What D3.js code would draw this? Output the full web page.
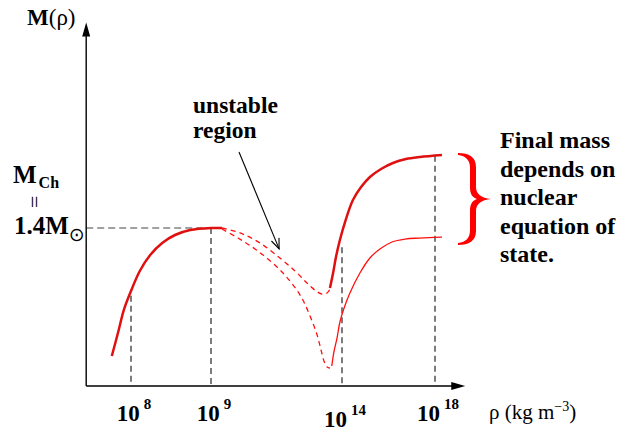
<!DOCTYPE html>
<html><head><meta charset="utf-8">
<script src="https://cdn.jsdelivr.net/npm/d3@7"></script>
<style>body{margin:0;background:#fff} svg{display:block} text{font-family:"Liberation Serif","Times New Roman",Times,serif}</style>
</head><body><svg id="c" width="617" height="432"></svg>
<script>
// ---- data (log10 rho, mass in solar masses) ----
const tickExps = [8, 9, 14, 18];
const tickLabels = ["8", "9", "14", "18"];
const dropTops = [0.80, 1.40, 1.23, 2.04];
const mChandra = 1.4;

const wdLogRho = [7.76, 7.84, 7.91, 8.0, 8.11, 8.24, 8.39, 8.55, 8.74, 9.0, 9.42];
const wdMass   = [0.266, 0.478, 0.673, 0.842, 1.019, 1.161, 1.267, 1.338, 1.382, 1.4, 1.4];

const unstAlogRho = [9.42, 10.11, 10.87, 11.63, 12.21, 12.66, 13.01, 13.24, 13.43, 13.54];
const unstAmass   = [1.4, 1.356, 1.267, 1.134, 1.019, 0.913, 0.842, 0.815, 0.824, 0.859];

const stiffLogRho = [13.54, 13.66, 13.77, 13.92, 14.13, 14.47, 14.82, 15.20, 15.68, 16.19, 16.75, 17.35, 18.30];
const stiffMass   = [0.868, 1.001, 1.143, 1.294, 1.453, 1.648, 1.763, 1.852, 1.923, 1.976, 2.011, 2.029, 2.047];

const unstBlogRho = [9.42, 10.03, 10.79, 11.71, 12.40, 12.78, 13.05, 13.20, 13.31, 13.43, 13.54];
const unstBmass   = [1.391, 1.311, 1.196, 1.010, 0.806, 0.620, 0.452, 0.319, 0.222, 0.168, 0.159];

const softLogRho = [13.61, 13.69, 13.81, 13.92, 14.09, 14.34, 14.77, 15.20, 15.63, 16.15, 16.71, 17.35, 18.30];
const softMass   = [0.177, 0.301, 0.425, 0.567, 0.691, 0.824, 1.001, 1.134, 1.214, 1.276, 1.302, 1.311, 1.320];

const axisLogRhoStart = 7.44, axisLogRhoEnd = 19.3, axisMassTop = 3.22;
const rightText = ["Final mass", "depends on", "nuclear", "equation of", "state."];
const unstableText = ["unstable", "region"];

// ---- scales ----
const x = d3.scaleLinear().domain(tickExps).range([131, 211, 342, 435]);
const y = d3.scaleLinear().domain([0, mChandra]).range([386, 228]);

const svg = d3.select("#c");
const zip = (a, b) => a.map((v, i) => [v, b[i]]);
const line = d3.line().x(d => x(d[0])).y(d => y(d[1])).curve(d3.curveCatmullRom.alpha(0.5));

// ---- drop lines ----
svg.append("g").selectAll("line").data(tickExps).join("line")
  .attr("x1", d => x(d)).attr("x2", d => x(d))
  .attr("y1", (d, i) => y(dropTops[i])).attr("y2", y(0))
  .attr("stroke", "#111").attr("stroke-width", 1.1).attr("stroke-dasharray", "6,4");
svg.append("line")
  .attr("x1", x(axisLogRhoStart)).attr("x2", x(9))
  .attr("y1", y(mChandra)).attr("y2", y(mChandra))
  .attr("stroke", "#444").attr("stroke-width", 1.1).attr("stroke-dasharray", "7,4");

// ---- curves ----
svg.append("path").datum(zip(unstAlogRho, unstAmass)).attr("d", line)
  .attr("fill", "none").attr("stroke", "#ff1010").attr("stroke-width", 1.3).attr("stroke-dasharray", "5,4");
svg.append("path").datum(zip(unstBlogRho, unstBmass)).attr("d", line)
  .attr("fill", "none").attr("stroke", "#ff1010").attr("stroke-width", 1.3).attr("stroke-dasharray", "5,4");
svg.append("path").datum(zip(softLogRho, softMass)).attr("d", line)
  .attr("fill", "none").attr("stroke", "#ff1010").attr("stroke-width", 1.3);
svg.append("path").datum(zip(wdLogRho, wdMass)).attr("d", line)
  .attr("fill", "none").attr("stroke", "#e01010").attr("stroke-width", 2.5);
svg.append("path").datum(zip(stiffLogRho, stiffMass)).attr("d", line)
  .attr("fill", "none").attr("stroke", "#e01010").attr("stroke-width", 2.5);

// ---- axes ----
const x0 = x(axisLogRhoStart), y0 = y(0), xe = x(axisLogRhoEnd), ye = y(axisMassTop);
svg.append("line").attr("x1", x0).attr("y1", y0).attr("x2", x0).attr("y2", ye + 10)
  .attr("stroke", "#000").attr("stroke-width", 1.4);
svg.append("line").attr("x1", x0).attr("y1", y0).attr("x2", xe - 10).attr("y2", y0)
  .attr("stroke", "#000").attr("stroke-width", 1.4);
svg.append("path").attr("d", `M${x0},${ye} L${x0 - 4},${ye + 14} L${x0 + 4},${ye + 14} Z`).attr("fill", "#000");
svg.append("path").attr("d", `M${xe},${y0} L${xe - 14},${y0 - 4} L${xe - 14},${y0 + 4} Z`).attr("fill", "#000");

// ---- tick labels ----
const tl = svg.append("g").attr("font-weight", "bold").attr("fill", "#000");
tickExps.forEach((e, i) => {
  const t = tl.append("text").attr("x", x(e) + 3).attr("y", e === 14 ? 427 : 421)
    .attr("text-anchor", "middle").attr("font-size", 23);
  t.append("tspan").text("10");
  t.append("tspan").attr("dx", 4).attr("dy", -12).attr("font-size", 15).text(tickLabels[i]);
});

// x axis title
const xt = svg.append("text").attr("x", 489).attr("y", 419)
  .attr("font-size", 21).attr("fill", "#000");
xt.append("tspan").text("ρ (kg m");
xt.append("tspan").attr("dy", -8).attr("font-size", 14).text("−3");
xt.append("tspan").attr("dy", 8).text(")");

// y axis title
const yt = svg.append("text").attr("x", 27).attr("y", 25)
  .attr("font-size", 23).attr("fill", "#000");
yt.append("tspan").attr("font-weight", "bold").text("M");
yt.append("tspan").text("(ρ)");

// M_Ch = 1.4 Msun
const mch = svg.append("text").attr("x", 13).attr("y", 183)
  .attr("font-weight", "bold").attr("font-size", 25).attr("fill", "#000");
mch.append("tspan").text("M");
mch.append("tspan").attr("dx", 2).attr("dy", 5).attr("font-size", 16).text("Ch");
svg.append("text").attr("transform", "translate(34,202) rotate(90)")
  .attr("text-anchor", "middle").attr("dy", "0.3em")
  .attr("font-size", 22).attr("fill", "#000").text("=");
const ms = svg.append("text").attr("x", 14).attr("y", 234)
  .attr("font-weight", "bold").attr("font-size", 25).attr("fill", "#000");
ms.append("tspan").text("1.4M");
ms.append("tspan").attr("dy", 7).style("font-family", "'DejaVu Sans', sans-serif")
  .attr("font-weight", "normal").attr("font-size", 19).text("⊙");

// unstable region label + arrow
const ur = svg.append("text").attr("font-weight", "bold")
  .attr("font-size", 23.5).attr("fill", "#000");
unstableText.forEach((s, i) => ur.append("tspan").attr("x", 193).attr("y", 113 + i * 25).text(s));
const ax1 = 239, ay1 = 152, ax2 = x(11.6), ay2 = y(1.215);
svg.append("line").attr("x1", ax1).attr("y1", ay1).attr("x2", ax2).attr("y2", ay2)
  .attr("stroke", "#000").attr("stroke-width", 1.1);
{
  const ang = Math.atan2(ay2 - ay1, ax2 - ax1), L = 11, sp = 0.38;
  const p1 = [ax2 - L * Math.cos(ang - sp), ay2 - L * Math.sin(ang - sp)];
  const p2 = [ax2 - L * Math.cos(ang + sp), ay2 - L * Math.sin(ang + sp)];
  svg.append("path").attr("d", `M${p1} L${ax2},${ay2} L${p2}`)
    .attr("fill", "none").attr("stroke", "#000").attr("stroke-width", 1.1);
}

// brace
svg.append("path").attr("transform", "translate(458,153)")
  .attr("d", "M0,0 C11,0 18,4 18,14 L18,34 C18,41 23,45 33,46 C23,47 18,51 18,58 L18,78 C18,88 11,92 0,92 L0,90 C8,89 12,85 12,77 L12,58 C12,51 14,48 19,46 C14,44 12,41 12,34 L12,15 C12,7 8,3 0,2 Z")
  .attr("fill", "#ff0000");

// right text
const rt = svg.append("text").attr("font-weight", "bold")
  .attr("font-size", 24).attr("fill", "#000");
rightText.forEach((s, i) => rt.append("tspan").attr("x", 500).attr("y", 148 + i * 28.5).text(s));
</script></body></html>
